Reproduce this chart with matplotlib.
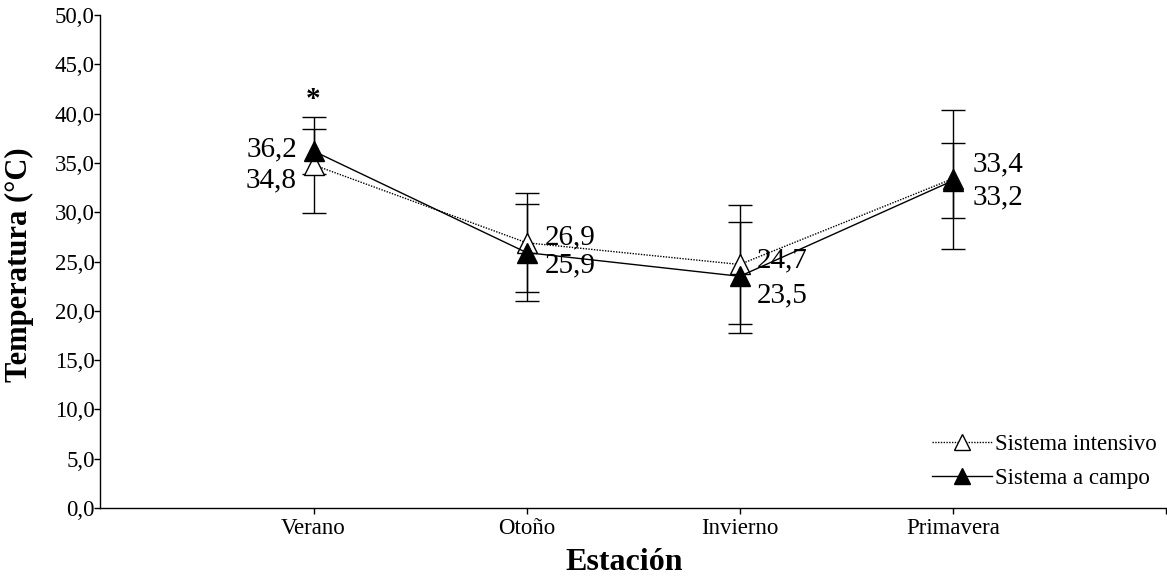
import matplotlib
matplotlib.use("Agg")
import matplotlib.pyplot as plt
import numpy as np

categories = ["Verano", "Otoño", "Invierno", "Primavera"]
intensivo = [34.8, 26.9, 24.7, 33.4]
intensivo_upper = [39.7, 31.9, 30.7, 40.4]
intensivo_lower = [29.9, 21.9, 18.7, 26.3]
campo = [36.2, 25.9, 23.5, 33.2]
campo_upper = [38.4, 30.8, 29.0, 37.0]
campo_lower = [33.9, 21.0, 17.8, 29.4]
yticks = [0, 5, 10, 15, 20, 25, 30, 35, 40, 45, 50]
star_value = 41.4

plt.rcParams['font.family'] = ['Liberation Serif', 'DejaVu Serif']

fig = plt.figure(figsize=(11.67, 5.81), dpi=100)
ax = fig.add_axes([0.0861, 0.1256, 0.9130, 0.8486])

x = np.arange(1, len(categories) + 1)

def yerr(vals, lo, up):
    v = np.array(vals); return [v - np.array(lo), np.array(up) - v]

ax.errorbar(x, intensivo, yerr=yerr(intensivo, intensivo_lower, intensivo_upper),
            fmt='none', ecolor='black', elinewidth=1, capsize=8.5, capthick=1, zorder=2)
ax.errorbar(x, campo, yerr=yerr(campo, campo_lower, campo_upper),
            fmt='none', ecolor='black', elinewidth=1, capsize=8.5, capthick=1, zorder=2)

ax.plot(x, intensivo, linestyle=(0, (1, 1)), color='black', lw=1,
        marker='^', markersize=15, markerfacecolor='white', markeredgecolor='black',
        markeredgewidth=1, label='Sistema intensivo', zorder=4)
ax.plot(x, campo, linestyle='-', color='black', lw=1,
        marker='^', markersize=15, markerfacecolor='black', markeredgecolor='black',
        label='Sistema a campo', zorder=5)

def fmt(v):
    return f"{v:.1f}".replace('.', ',')

# label offsets in points (dx, dy), alignment
int_offsets = [(-12, -11, 'right'), (13, 4, 'left'), (12, 3, 'left'), (14, 10, 'left')]
cam_offsets = [(-12, 1, 'right'), (13, -9, 'left'), (12, -14, 'left'), (14, -12, 'left')]
for xi, v, (dx, dy, ha) in zip(x, intensivo, int_offsets):
    ax.annotate(fmt(v), (xi, v), xytext=(dx, dy), textcoords='offset points',
                ha=ha, va='center', fontsize=21, zorder=3,
                bbox=dict(facecolor='white', edgecolor='none', pad=0.5))
for xi, v, (dx, dy, ha) in zip(x, campo, cam_offsets):
    ax.annotate(fmt(v), (xi, v), xytext=(dx, dy), textcoords='offset points',
                ha=ha, va='center', fontsize=21, zorder=3,
                bbox=dict(facecolor='white', edgecolor='none', pad=0.5))

ax.text(1, star_value, '*', ha='center', va='center', fontsize=21, fontweight='bold')

ax.set_xlim(0, 5)
ax.set_ylim(0, 50)
ax.set_xticks(list(x) + [5])
ax.set_xticklabels(categories + [''], fontsize=16.5)
ax.set_yticks(yticks)
ax.set_yticklabels([fmt(t) for t in yticks], fontsize=16.5)
ax.tick_params(axis='y', direction='out', length=4, width=1, pad=0, colors='black')
ax.tick_params(axis='x', direction='out', length=4, width=1, pad=3, colors='black')
ax.spines['top'].set_visible(False)
ax.spines['right'].set_visible(False)
ax.spines['left'].set_linewidth(1)
ax.spines['bottom'].set_linewidth(1)

fig.text(624 / 1167, 1 - 563 / 581, 'Estación', fontsize=23, fontweight='bold',
         ha='center', va='center')
fig.text(19 / 1167, 1 - 265 / 581, 'Temperatura (°C)', fontsize=22, fontweight='bold',
         ha='center', va='center', rotation=90)

leg = ax.legend(loc='lower right', frameon=False, fontsize=16.5, handlelength=2.6,
                markerscale=0.8, handletextpad=0.15, labelspacing=0.55,
                bbox_to_anchor=(1.0, 0.02), borderaxespad=0)

fig.savefig('out.png', dpi=100)
